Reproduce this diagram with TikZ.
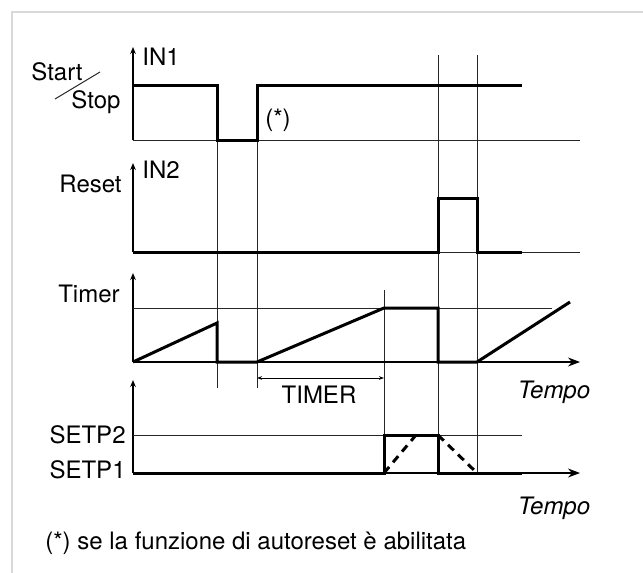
\documentclass[tikz,border=0pt]{standalone}
\usepackage{fontspec}
\setmainfont{TeX Gyre Heros}
\usetikzlibrary{arrows.meta, positioning, calc}
\tikzset{
    frameline/.style={line width=0.6pt, black!15},
    guide/.style={line width=0.5pt, black!85},
    signal/.style={line width=1.5pt, black},
    ramp/.style={line width=1.5pt, black, dash pattern=on 4pt off 3pt},
    axis/.style={-{Stealth[length=3.5pt, width=2.8pt]}, line width=0.6pt},
    timeaxis/.style={-{Stealth[length=6pt, width=4.5pt]}, line width=0.6pt},
    dimline/.style={{Stealth[length=2.5pt, width=1.8pt]}-{Stealth[length=2.5pt, width=1.8pt]},
                    line width=0.4pt},
    lbl/.style={font=\fontsize{12}{14}\selectfont, inner sep=0pt},
    tlbl/.style={lbl, font=\fontsize{12}{14}\selectfont\itshape},
}
\begin{document}
\begin{tikzpicture}[x=0.5pt, y=-0.5pt]
    \useasboundingbox (0,0) rectangle (643,573);
    \draw[frameline] (643,12) -- (12,12) -- (12,573);

    % time markers
    \draw[guide] (217,140) -- (217,388);
    \draw[guide] (257,140) -- (257,388);
    \draw[guide] (384,290) -- (384,473);
    \draw[guide] (438,55)  -- (438,473);
    \draw[guide] (477,55)  -- (477,473);

    % IN1 : start / stop
    \draw[axis] (133,140) -- (133,47);
    \draw[guide] (133,140) -- (580,140);
    \draw[signal] (133,85) -- (217,85) -- (217,140) -- (257,140) -- (257,85) -- (522,85);
    \node[lbl, anchor=west] (in1) at (142,57) {IN1};
    \node[lbl] (start) at (57,72) {Start};
    \node[lbl] (stop) at (96,102) {Stop};
    \draw[guide] (55,99) -- (100,72);
    \node[lbl] (star) at (278,120) {(*)};

    % IN2 : reset
    \draw[axis] (133,252) -- (133,163);
    \draw[guide] (133,252) -- (580,252);
    \draw[signal] (133,252) -- (438,252) -- (438,198) -- (477,198) -- (477,252) -- (522,252);
    \node[lbl, anchor=west] (in2) at (142,170) {IN2};
    \node[lbl, anchor=east] (reset) at (122,184) {Reset};

    % timer
    \draw[axis] (133,362) -- (133,273);
    \draw[timeaxis] (133,362) -- (580,362);
    \draw[guide] (133,308) -- (552,308);
    \draw[signal] (133,362) -- (217,323) -- (217,362) -- (257,362) -- (384,308)
                  -- (438,308) -- (438,362) -- (477,362) -- (570,302);
    \node[lbl, anchor=east] (timer) at (120,294) {Timer};
    \draw[dimline] (257,378) -- (384,378);
    \node[lbl] (tset) at (319,395) {TIMER};
    \node[tlbl] (tempo1) at (554,392) {Tempo};

    % output
    \draw[axis] (133,473) -- (133,380);
    \draw[timeaxis] (133,473) -- (580,473);
    \draw[guide] (133,435) -- (522,435);
    \draw[signal] (133,473) -- (384,473) -- (384,435) -- (438,435) -- (438,473) -- (522,473);
    \draw[ramp] (384,473) -- (416,435);
    \draw[ramp] (438,435) -- (477,473);
    \node[lbl, anchor=east] (sp2) at (126,435) {SETP2};
    \node[lbl, anchor=east] (sp1) at (126,470) {SETP1};
    \node[tlbl] (tempo2) at (554,508) {Tempo};

    \node[lbl, anchor=west] (note) at (45,543) {(*) se la funzione di autoreset è abilitata};
\end{tikzpicture}
\end{document}
